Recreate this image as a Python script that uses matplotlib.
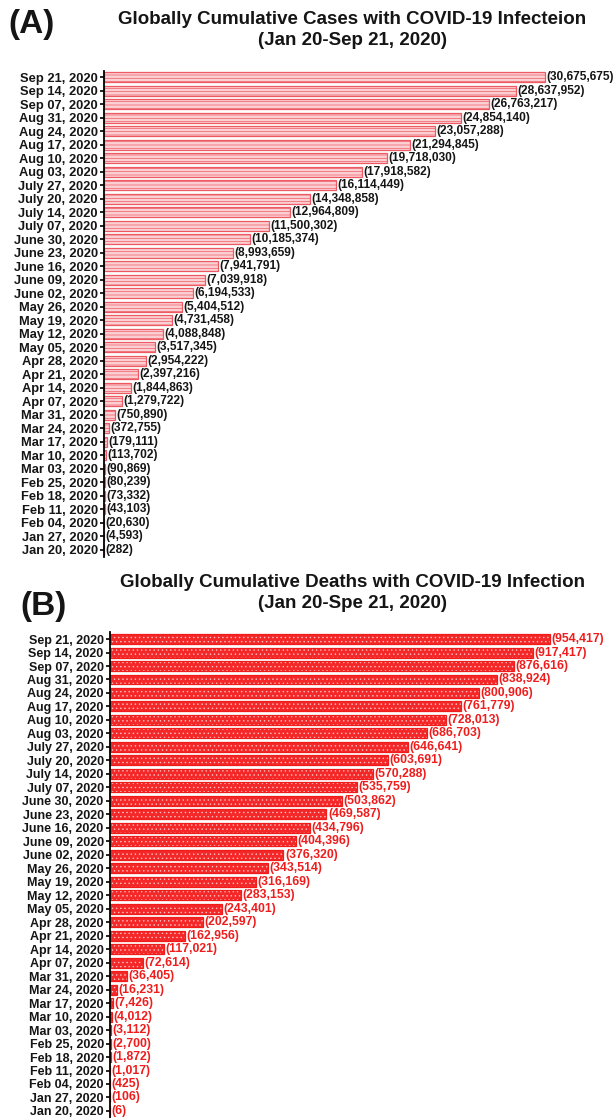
import matplotlib
matplotlib.use("Agg")
import matplotlib.pyplot as plt
import numpy as np

plt.rcParams['font.family'] = ['Liberation Sans', 'DejaVu Sans']

dates = ["Sep 21, 2020", "Sep 14, 2020", "Sep 07, 2020", "Aug 31, 2020", "Aug 24, 2020",
         "Aug 17, 2020", "Aug 10, 2020", "Aug 03, 2020", "July 27, 2020", "July 20, 2020",
         "July 14, 2020", "July 07, 2020", "June 30, 2020", "June 23, 2020", "June 16, 2020",
         "June 09, 2020", "June 02, 2020", "May 26, 2020", "May 19, 2020", "May 12, 2020",
         "May 05, 2020", "Apr 28, 2020", "Apr 21, 2020", "Apr 14, 2020", "Apr 07, 2020",
         "Mar 31, 2020", "Mar 24, 2020", "Mar 17, 2020", "Mar 10, 2020", "Mar 03, 2020",
         "Feb 25, 2020", "Feb 18, 2020", "Feb 11, 2020", "Feb 04, 2020", "Jan 27, 2020",
         "Jan 20, 2020"]

cases = [30675675, 28637952, 26763217, 24854140, 23057288, 21294845, 19718030, 17918582,
         16114449, 14348858, 12964809, 11500302, 10185374, 8993659, 7941791, 7039918,
         6194533, 5404512, 4731458, 4088848, 3517345, 2954222, 2397216, 1844863, 1279722,
         750890, 372755, 179111, 113702, 90869, 80239, 73332, 43103, 20630, 4593, 282]

deaths = [954417, 917417, 876616, 838924, 800906, 761779, 728013, 686703, 646641, 603691,
          570288, 535759, 503862, 469587, 434796, 404396, 376320, 343514, 316169, 283153,
          243401, 202597, 162956, 117021, 72614, 36405, 16231, 7426, 4012, 3112, 2700,
          1872, 1017, 425, 106, 6]

title_a = "Globally Cumulative Cases with COVID-19 Infecteion\n(Jan 20-Sep 21, 2020)"
title_b = "Globally Cumulative Deaths with COVID-19 Infection\n(Jan 20-Spe 21, 2020)"

W, H = 616, 1118
fig = plt.figure(figsize=(W / 100, H / 100), dpi=100)


def px_axes(left, top, right, bottom):
    return fig.add_axes([left / W, 1 - bottom / H, (right - left) / W, (bottom - top) / H])


def style_axes(ax, fs):
    for s in ['top', 'right', 'bottom']:
        ax.spines[s].set_visible(False)
    ax.spines['left'].set_linewidth(1.3)
    ax.set_xticks([])
    ax.tick_params(axis='y', length=3, width=1.2, pad=1.5)
    for lab in ax.get_yticklabels():
        lab.set_fontweight('bold')
        lab.set_fontsize(fs)
        lab.set_color('#151515')


n = len(dates)
y = np.arange(n)[::-1]

# ---- Panel A ----
axA = px_axes(104, 70.5, 616, 556.5)
plt.rcParams['hatch.linewidth'] = 0.5
barsA = axA.barh(y, cases, height=0.74, color='#fbd0d3', edgecolor='#ee5a64',
                 hatch='-----', linewidth=0.9)
axA.set_xlim(0, 30675675 * 512 / 441)
axA.set_ylim(-0.5, n - 0.5)
axA.set_yticks(y)
axA.set_yticklabels(dates)
style_axes(axA, 9.3)
axA.bar_label(barsA, labels=[f"({v:,})" for v in cases], padding=1,
              fontsize=8.6, fontweight='bold', color='#151515')

fig.text(352 / W, 1 - 30 / H, title_a, ha='center', va='center', fontsize=13.5,
         fontweight='bold', linespacing=1.38, color='#151515')
fig.text(8 / W, 1 - 25 / H, "(A)", ha='left', va='center', fontsize=24,
         fontweight='bold', color='#151515')

# ---- Panel B ----
axB = px_axes(110, 632.3, 616, 1117.7)
barsB = axB.barh(y, deaths, height=0.74, color='#f42828', edgecolor='#ffc0c0',
                 hatch='....', linewidth=0)
axB.barh(y, deaths, height=0.74, fill=False, edgecolor='#f01c1c', linewidth=0.9)
axB.set_xlim(0, 954417 * 506 / 440)
axB.set_ylim(-0.5, n - 0.5)
axB.set_yticks(y)
axB.set_yticklabels(dates)
style_axes(axB, 9.0)
axB.bar_label(barsB, labels=[f"({v:,})" for v in deaths], padding=1,
              fontsize=8.8, fontweight='bold', color='#f01c1c')

fig.text(352 / W, 1 - 593 / H, title_b, ha='center', va='center', fontsize=13.5,
         fontweight='bold', linespacing=1.38, color='#151515')
fig.text(20 / W, 1 - 606 / H, "(B)", ha='left', va='center', fontsize=24,
         fontweight='bold', color='#151515')

fig.savefig("out.png", dpi=100)
